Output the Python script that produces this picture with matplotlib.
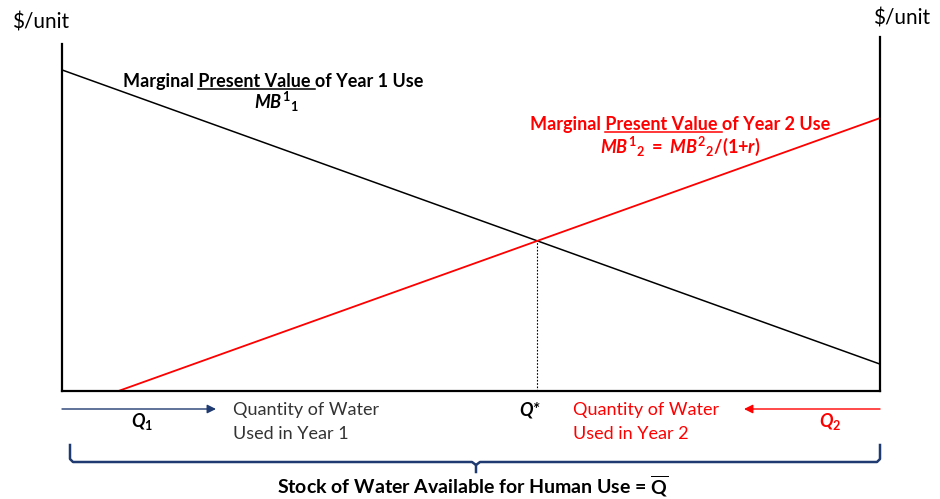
"""
Two-period water allocation diagram: marginal present value of use in
year 1 vs year 2, with the efficient split Q* of the fixed stock Q-bar.
"""
import numpy as np
import matplotlib
matplotlib.use("Agg")
import matplotlib.pyplot as plt

W, H = 940, 499
NAVY = "#1F3A70"
RED = "#FF0000"
GREY = "#333333"

plt.rcParams["font.family"] = ["Lato", "DejaVu Sans"]
plt.rcParams["mathtext.fontset"] = "custom"
plt.rcParams["mathtext.it"] = "Lato:italic:bold"
plt.rcParams["mathtext.rm"] = "Lato:bold"
plt.rcParams["mathtext.bf"] = "Lato:bold"

# quantity axis runs 0..Q_BAR, price axis 0..100
Q_BAR = 100
q_mb1 = [0, 100]
mb1 = [90.7, 7.6]
q_mb2 = [6.9, 100]
mb2 = [0, 77.1]
left_axis_top = 98
right_axis_top = 100

# intersection of the two straight lines -> Q*
s1 = (mb1[1] - mb1[0]) / (q_mb1[1] - q_mb1[0])
s2 = (mb2[1] - mb2[0]) / (q_mb2[1] - q_mb2[0])
q_star = (mb2[0] - s2 * q_mb2[0] - mb1[0] + s1 * q_mb1[0]) / (s1 - s2)
p_star = mb1[0] + s1 * (q_star - q_mb1[0])

fig = plt.figure(figsize=(W / 100, H / 100), dpi=100)
ax = fig.add_axes([62 / W, 1 - 391 / H, 818 / W, (391 - 37) / H])
ax.set_xlim(0, Q_BAR)
ax.set_ylim(0, 100)
ax.set_xticks([])
ax.set_yticks([])
ax.patch.set_alpha(0)
ax.spines["top"].set_visible(False)
for side in ["left", "right", "bottom"]:
    ax.spines[side].set_linewidth(1.6)
ax.spines["left"].set_bounds(0, left_axis_top)
ax.spines["right"].set_bounds(0, right_axis_top)

ax.plot(q_mb1, mb1, color="black", lw=1.1, solid_capstyle="butt")
ax.plot(q_mb2, mb2, color=RED, lw=1.3, solid_capstyle="butt", clip_on=False)
ax.plot([q_star, q_star], [0, p_star], color="black", lw=0.8, ls=(0, (1.5, 1.5)))

# overlay in pixel coordinates for annotations
ov = fig.add_axes([0, 0, 1, 1], zorder=5)
ov.set_xlim(0, W)
ov.set_ylim(H, 0)
ov.axis("off")
ov.patch.set_alpha(0)

ov.text(12, 22, "$/unit", fontsize=15, color="black", va="center", ha="left")
ov.text(873, 18, "$/unit", fontsize=15, color="black", va="center", ha="left")


def underlined_title(xc, y, pre, mid, post, color, size):
    full = pre + mid + post
    t = ov.text(xc, y, full, ha="center", va="center", fontsize=size,
                fontweight="bold", color=color)
    fig.canvas.draw()
    r = fig.canvas.get_renderer()

    def width(s):
        tmp = ov.text(0, 0, s, fontsize=size, fontweight="bold")
        w = tmp.get_window_extent(r).width
        tmp.remove()
        return w

    bb = t.get_window_extent(r)
    x0 = bb.x0
    u0 = x0 + width(pre + "x") - width("x")
    u1 = x0 + width(pre + mid + "x") - width("x")
    ybase = H - bb.y0 - 1
    ov.plot([u0, u1], [ybase, ybase], color=color, lw=1.1)


underlined_title(273, 81, "Marginal ", "Present Value ", "of Year 1 Use", "black", 13)
ov.text(276, 102, r"$\mathit{MB}^{\mathit{1}}{}_{\mathit{1}}$", ha="center", va="center",
        fontsize=13, color="black")

underlined_title(680, 124, "Marginal ", "Present Value ", "of Year 2 Use", RED, 13)
ov.text(680, 146,
        r"$\mathit{MB}^{\mathit{1}}{}_{\mathit{2}}\ =\ \mathit{MB}^{\mathit{2}}{}_{\mathit{2}}\mathit{/(1{+}r)}$",
        ha="center", va="center", fontsize=13, color=RED)

# quantity arrows
ov.annotate("", xy=(216, 409), xytext=(62, 409),
            arrowprops=dict(arrowstyle="-|>", color=NAVY, lw=1.0, mutation_scale=13,
                            shrinkA=0, shrinkB=0))
ov.annotate("", xy=(744, 409), xytext=(880, 409),
            arrowprops=dict(arrowstyle="-|>", color=RED, lw=1.0, mutation_scale=13,
                            shrinkA=0, shrinkB=0))

ov.text(142, 421, r"$\mathit{Q}_{\mathit{1}}$", ha="center", va="center", fontsize=13, color="black")
ov.text(530, 410, "Q*", ha="center", va="center", fontsize=13, fontweight="bold",
        fontstyle="italic", color="black")
ov.text(830, 421, r"$\mathit{Q}_{\mathit{2}}$", ha="center", va="center", fontsize=13, color=RED)

ov.text(233, 410, "Quantity of Water", ha="left", va="center", fontsize=13, color=GREY)
ov.text(233, 434, "Used in Year 1", ha="left", va="center", fontsize=13, color=GREY)
ov.text(573, 410, "Quantity of Water", ha="left", va="center", fontsize=13, color=RED)
ov.text(573, 434, "Used in Year 2", ha="left", va="center", fontsize=13, color=RED)

# brace for the whole stock
ov.plot([70, 70, 73, 472, 476, 476], [445, 459, 462, 462, 465, 472], color=NAVY, lw=1.8)
ov.plot([476, 480, 877, 880, 880], [465, 462, 462, 459, 445], color=NAVY, lw=1.8)

ov.text(473, 486, r"Stock of Water Available for Human Use = $\overline{\mathrm{Q}}$",
        ha="center", va="center", fontsize=14, fontweight="bold", color="black")

fig.savefig("out.png", dpi=100)
